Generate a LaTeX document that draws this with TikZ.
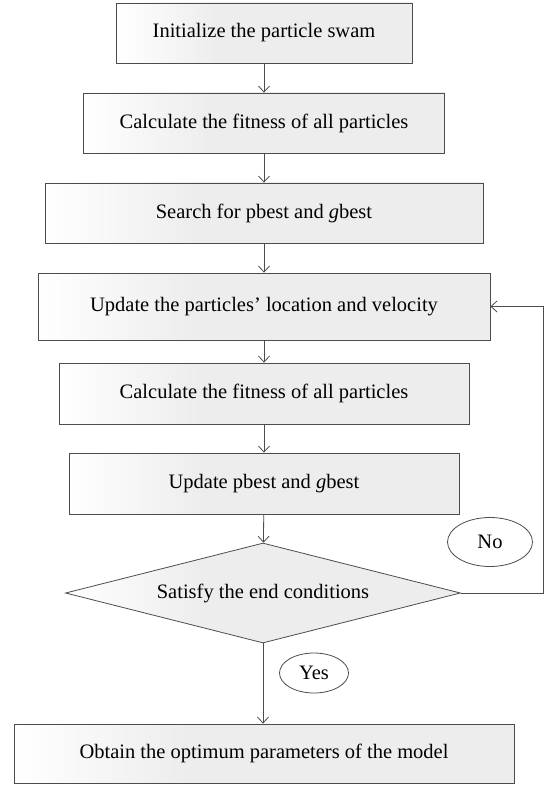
\documentclass[tikz,border=0pt]{standalone}
\usepackage{fontspec}
\setmainfont{Liberation Serif}
\usetikzlibrary{shapes.geometric,arrows.meta}

\pgfdeclarehorizontalshading{boxfade}{100bp}{color(0bp)=(white); color(25bp)=(white); color(42bp)=(black!7); color(75bp)=(black!7); color(100bp)=(black!7)}

\begin{document}
\begin{tikzpicture}[x=1pt,y=-1pt,
    line width=0.8pt,
    procbox/.style={draw=black!70, rectangle, shading=boxfade, inner sep=0pt, minimum height=60pt, font=\fontsize{20.5}{24}\selectfont},
    decide/.style={draw=black!70, diamond, aspect=3.95, shading=boxfade, inner sep=0pt, minimum width=395pt, minimum height=100pt, font=\fontsize{20.5}{24}\selectfont},
    answer/.style={draw=black!70, ellipse, fill=white, inner sep=0pt, font=\fontsize{20.5}{24}\selectfont},
    flow/.style={draw=black!70, -{Straight Barb[length=6pt,width=11pt]}}]
    \useasboundingbox (0,0) rectangle (547,786);

    \node[procbox, minimum width=296pt] (init) at (264,33) {Initialize the particle swam};
    \node[procbox, minimum width=361pt] (fit1) at (264,123) {Calculate the fitness of all particles};
    \node[procbox, minimum width=438pt] (search) at (264,213) {Search for pbest and \textit{g}best};
    \node[procbox, minimum width=452pt, minimum height=67pt] (update) at (264,306.5) {Update the particles' location and velocity};
    \node[procbox, minimum width=410pt, minimum height=61pt] (fit2) at (264,393.5) {Calculate the fitness of all particles};
    \node[procbox, minimum width=390pt, minimum height=61pt] (best) at (264,483.5) {Update pbest and \textit{g}best};
    \node[decide] (check) at (263,593) {Satisfy the end conditions};
    \node[procbox, minimum width=500pt, minimum height=59pt] (result) at (264,753.5) {Obtain the optimum parameters of the model};

    \node[answer, minimum width=85pt, minimum height=49pt] (no) at (490,542) {No};
    \node[answer, minimum width=69pt, minimum height=40pt] (yes) at (314,673) {Yes};

    \draw[flow] (init) -- (fit1);
    \draw[flow] (fit1) -- (search);
    \draw[flow] (search) -- (update);
    \draw[flow] (update) -- (fit2);
    \draw[flow] (fit2) -- (best);
    \draw[flow] (best) -- (check);
    \draw[flow] (check.south) -- (check.south |- result.north);

    \coordinate (loop) at (543,593);
    \draw[flow] (check.east) -- (loop) |- (update.east);
\end{tikzpicture}
\end{document}
